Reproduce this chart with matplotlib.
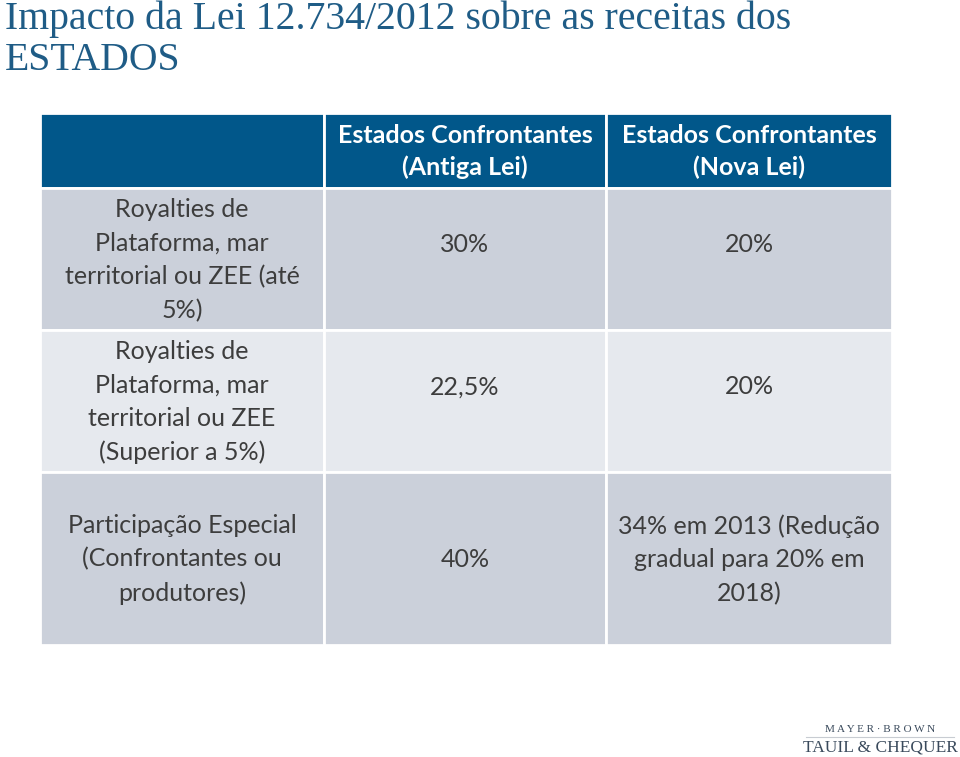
import matplotlib.pyplot as plt
from matplotlib.patches import Rectangle

# table content
row_labels = [
    "Royalties de\nPlataforma, mar\nterritorial ou ZEE (até\n5%)",
    "Royalties de\nPlataforma, mar\nterritorial ou ZEE\n(Superior a 5%)",
    "Participação Especial\n(Confrontantes ou\nprodutores)",
]
col_labels = ["", "Estados Confrontantes\n(Antiga Lei)", "Estados Confrontantes\n(Nova Lei)"]
antiga_lei = ["30%", "22,5%", "40%"]
nova_lei = ["20%", "20%", "34% em 2013 (Redução\ngradual para 20% em\n2018)"]

title = "Impacto da Lei 12.734/2012 sobre as receitas dos\nESTADOS"

# layout in pixels
col_edges = [40, 324, 606, 892]
row_edges = [113, 188, 330, 472, 645]
value_shift = [-15, -15, 0]  # values sit a bit above centre in the first two rows
header_color = "#01578A"
row_colors = ["#CBD0DA", "#E6E9EE", "#CBD0DA"]
text_color = "#3D3D3D"
body_font = ["Lato", "DejaVu Sans"]

fig = plt.figure(figsize=(9.6, 7.57), dpi=100)
ax = fig.add_axes([0, 0, 1, 1])
ax.set_xlim(0, 960)
ax.set_ylim(757, 0)
ax.axis("off")

ax.text(5, 1, title, fontsize=28.6, family=["Liberation Serif", "DejaVu Serif"],
        color="#1F5C86", va="top", ha="left", linespacing=1.12)

rows = [col_labels] + [[row_labels[i], antiga_lei[i], nova_lei[i]] for i in range(3)]
for r, row in enumerate(rows):
    y0, y1 = row_edges[r], row_edges[r + 1]
    fc = header_color if r == 0 else row_colors[r - 1]
    for c, txt in enumerate(row):
        x0, x1 = col_edges[c], col_edges[c + 1]
        ax.add_patch(Rectangle((x0, y0), x1 - x0, y1 - y0, facecolor=fc,
                               edgecolor="white", linewidth=2))
        if r == 0:
            ax.text((x0 + x1) / 2, (y0 + y1) / 2 + 1, txt, ha="center", va="center",
                    fontsize=18, color="white", weight="bold", family=body_font,
                    linespacing=1.45)
        else:
            dy = value_shift[r - 1] if c > 0 else 0
            ax.text((x0 + x1) / 2, (y0 + y1) / 2 + 1 + dy, txt, ha="center", va="center",
                    fontsize=18, color=text_color, family=body_font, linespacing=1.55)

# logo
ax.text(880, 729, "M A Y E R · B R O W N", ha="center", va="center", fontsize=8,
        family="Liberation Serif", color="#3A4A5C")
ax.plot([806, 954], [737, 737], color="#C8CCD2", linewidth=0.8)
ax.text(880, 747, "TAUIL & CHEQUER", ha="center", va="center", fontsize=12.5,
        family="Liberation Serif", color="#3A4A5C")

fig.savefig("out.png", dpi=100)
